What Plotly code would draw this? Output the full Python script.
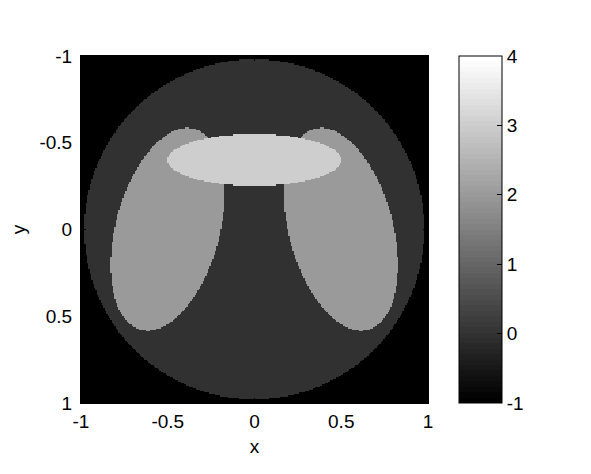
import numpy as np
import plotly.graph_objects as go

# Phantom made of ellipses, painted in order (later ones overwrite)
ELLIPSE_CX = [0.0, -0.5, 0.5, 0.0]
ELLIPSE_CY = [0.0, 0.0, 0.0, -0.4]
ELLIPSE_AX = [0.98, 0.3, 0.3, 0.5]     # semi-axis along rotated x
ELLIPSE_AY = [0.98, 0.6, 0.6, 0.15]    # semi-axis along rotated y
ELLIPSE_DEG = [0.0, 15.0, -15.0, 0.0]
ELLIPSE_VAL = [0.0, 2.0, 2.0, 3.0]
BACKGROUND_VAL = -1.0

N_PIX = 256
AXIS_TICKS = [-1, -0.5, 0, 0.5, 1]
AXIS_TICKTEXT = ["-1", "-0.5", "0", "0.5", "1"]
CBAR_TICKS = [-1, 0, 1, 2, 3, 4]
CBAR_TICKTEXT = ["-1", "0", "1", "2", "3", "4"]

FONT = dict(family="Liberation Sans, Arial, sans-serif", size=19, color="black")

grid = np.linspace(-1, 1, N_PIX)
X, Y = np.meshgrid(grid, grid)
Z = np.full(X.shape, BACKGROUND_VAL)
for cx, cy, ax, ay, deg, val in zip(ELLIPSE_CX, ELLIPSE_CY, ELLIPSE_AX,
                                   ELLIPSE_AY, ELLIPSE_DEG, ELLIPSE_VAL):
    t = np.deg2rad(deg)
    u = (X - cx) * np.cos(t) + (Y - cy) * np.sin(t)
    v = -(X - cx) * np.sin(t) + (Y - cy) * np.cos(t)
    Z[(u / ax) ** 2 + (v / ay) ** 2 <= 1] = val

# 64-step gray colormap (matlab style)
levels = 64
gray_scale = []
for i in range(levels):
    g = round(255 * i / (levels - 1))
    c = f"rgb({g},{g},{g})"
    gray_scale.append([i / levels, c])
    gray_scale.append([(i + 1) / levels, c])

fig = go.Figure(
    go.Heatmap(
        x=grid, y=grid, z=Z,
        zmin=-1, zmax=4,
        colorscale=gray_scale,
        colorbar=dict(
            x=(459 - 81) / 347, xanchor="left", xpad=0, ypad=0,
            y=0.5, yanchor="middle", len=1, thickness=43,
            outlinewidth=1, outlinecolor="black",
            tickvals=CBAR_TICKS, ticktext=CBAR_TICKTEXT,
            ticks="inside", ticklen=5, tickcolor="black",
            tickfont=FONT,
        ),
        hoverinfo="skip",
    )
)

axis_style = dict(
    tickvals=AXIS_TICKS, ticktext=AXIS_TICKTEXT,
    ticks="inside", ticklen=5, tickcolor="black",
    showline=True, linecolor="black", linewidth=1, mirror="ticks",
    showgrid=False, zeroline=False, tickfont=FONT, automargin=False,
)

# page body adds ~8px, so the figure is a bit smaller than the window
fig.update_layout(
    width=583, height=466,
    margin=dict(l=73, r=163, t=48, b=71),
    paper_bgcolor="white", plot_bgcolor="white",
    font=FONT,
    xaxis=dict(range=[-1, 1], ticklabelstandoff=1,
               title=dict(text="x", font=FONT, standoff=8), **axis_style),
    yaxis=dict(range=[1, -1], ticklabelstandoff=4,
               title=dict(text="y", font=FONT, standoff=11), **axis_style),
)

fig.write_html("out.html")
